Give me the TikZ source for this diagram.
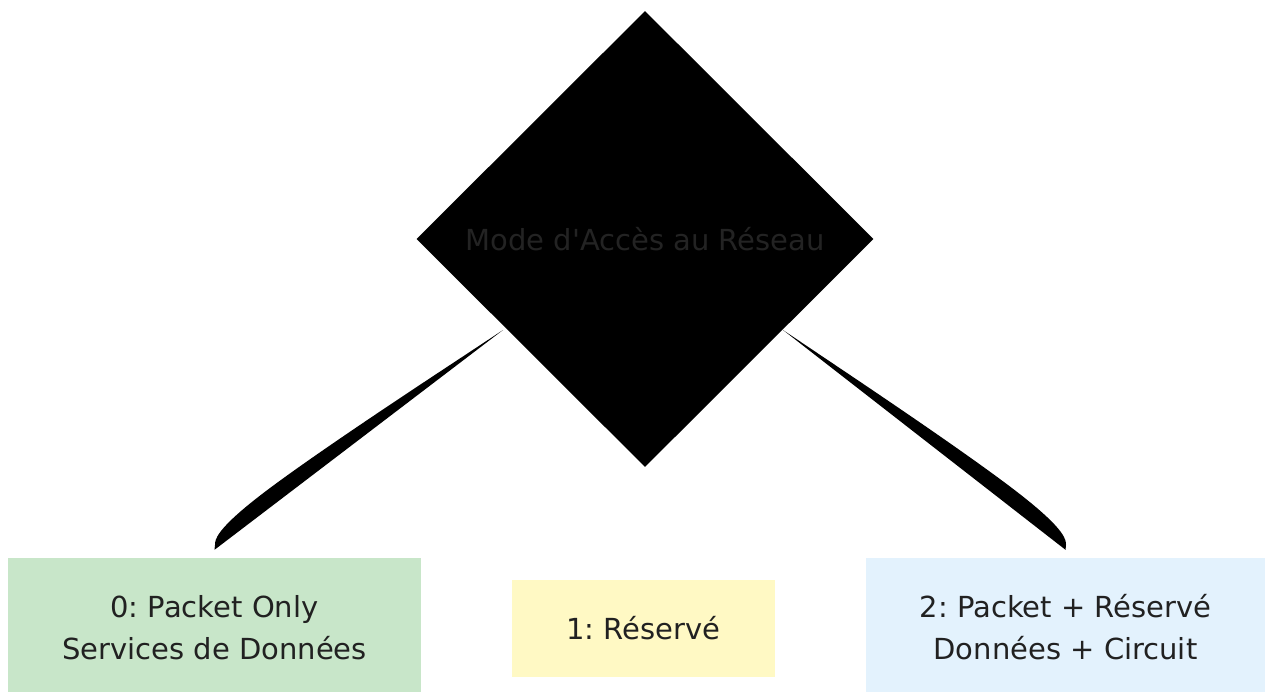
\documentclass[tikz,border=0pt]{standalone}
\usepackage{fontspec}
\setmainfont{DejaVu Sans}
\usetikzlibrary{shapes.geometric}
\definecolor{boxtext}{HTML}{212121}
\definecolor{dtext}{HTML}{232323}
\definecolor{gfill}{HTML}{C8E6C9}
\definecolor{yfill}{HTML}{FFF9C4}
\definecolor{bfill}{HTML}{E3F2FD}
\frenchspacing
\newcommand{\topstrut}{\rule{0pt}{27.5pt}}
\begin{document}
\begin{tikzpicture}[x=1pt,y=-1pt,
  lbl/.style={font=\frenchspacing\fontsize{29}{42.5}\selectfont, text=boxtext, align=center, inner sep=0pt},
  choice/.style={lbl, draw=none, rectangle},
  decision/.style={diamond, fill=black, draw=none, aspect=1, inner sep=0pt,
    font=\fontsize{29}{42.5}\selectfont, text=dtext},
  wedge/.style={fill=black, draw=none}]
\useasboundingbox (0,0) rectangle (1265,693);
\fill[white] (0,0) rectangle (1265,693);

\node[choice, fill=gfill, minimum width=413pt, minimum height=134pt] (p0) at (214.5,625) {\topstrut 0: Packet Only\\Services de Données};
\node[choice, fill=yfill, minimum width=263pt, minimum height=97pt] (p1) at (643.5,628.5) {1: Réservé};
\node[choice, fill=bfill, minimum width=399pt, minimum height=134pt] (p2) at (1065.5,625) {\topstrut 2: Packet + Réservé\\Données + Circuit};

\coordinate (l0) at (503,330);
\coordinate (l1) at ([yshift=8pt]p0.north);
\coordinate (r0) at (783,330);
\coordinate (r1) at ([yshift=8pt]p2.north);

\fill[wedge] (l0) -- (455,361.7) .. controls (407,393.3) and (311,456.7) .. (263,493.3)
  .. controls (215,530) and (215,540) .. (215,545) -- (l1) -- cycle;
\fill[wedge] (r0) -- (830.2,361.7) .. controls (877.3,393.3) and (971.7,456.7) .. (1018.8,493.3)
  .. controls (1066,530) and (1066,540) .. (1066,545) -- (r1) -- cycle;

\node[decision, minimum width=457pt, minimum height=456pt] (mode) at (645,239) {Mode d\textquotesingle Accès au Réseau};
\end{tikzpicture}
\end{document}
